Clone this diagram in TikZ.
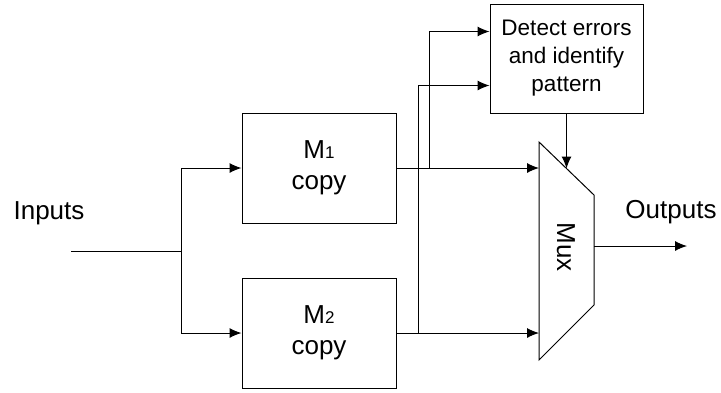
\documentclass[tikz,border=0pt]{standalone}
\usepackage{fontspec}
\setmainfont{Liberation Sans}
\usetikzlibrary{arrows.meta}
\begin{document}
\begin{tikzpicture}[x=0.5pt, y=-0.5pt, line width=0.5pt, >={Latex[length=6pt,width=5pt]}, font=\fontsize{13}{15.5}\selectfont]
\useasboundingbox (0,0) rectangle (721,392);
\node [rectangle, draw=black, fill=white, minimum width=77pt, minimum height=55pt, align=center](M1) at (319,168){M{\fontsize{8.5}{10}\selectfont 1}\\copy};
\node [rectangle, draw=black, fill=white, minimum width=77pt, minimum height=55pt, align=center](M2) at (319,333){M{\fontsize{8.5}{10}\selectfont 2}\\copy};
\node [rectangle, draw=black, fill=white, minimum width=76.5pt, minimum height=54.5pt, align=center, font=\fontsize{11.25}{14}\selectfont](D) at (566.5,58.5){Detect errors\\and identify\\pattern};
\draw (539,142) -- (594,195) -- (594,305) -- (539,360) -- cycle;
\node [rotate=-90](Mux) at (566,247){Mux};
\node (In) at (49,213){Inputs};
\node (Out) at (671,212){Outputs};
\coordinate (I0) at (71,251);
\coordinate (I1) at (181,251);
\coordinate (T1) at (429,168);
\coordinate (T2) at (418,333);
\coordinate (A1) at (539,168);
\coordinate (A2) at (539,333);
\coordinate (S) at (566.5,168.5);
\coordinate (Y0) at (594,246);
\coordinate (Y1) at (687,246);
\draw (I0) -- (I1);
\draw [->](I1) |- (M1.west);
\draw [->](I1) |- (M2.west);
\draw [->](M1.east) -- (A1);
\draw [->](M2.east) -- (A2);
\draw [->](T1) |- ([yshift=13.5pt]D.west);
\draw [->](T2) |- ([yshift=-13.5pt]D.west);
\draw [->](D.south) -- (S);
\draw [->](Y0) -- (Y1);
\end{tikzpicture}
\end{document}
